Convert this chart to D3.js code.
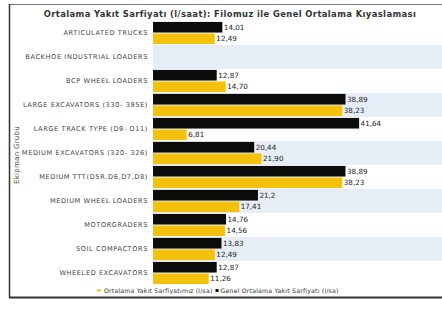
<!DOCTYPE html>
<html><head><meta charset="utf-8">
<script src="https://cdn.jsdelivr.net/npm/d3@7"></script>
<style>body{margin:0;background:#fff}svg{display:block}</style>
</head><body>
<svg id="c" width="442" height="310"></svg>
<script>
const categories = ["ARTICULATED TRUCKS","BACKHOE INDUSTRIAL LOADERS","BCP WHEEL LOADERS","LARGE EXCAVATORS (330- 395E)","LARGE TRACK TYPE (D9- D11)","MEDIUM EXCAVATORS (320- 326)","MEDIUM TTT(D5R,D6,D7,D8)","MEDIUM WHEEL LOADERS","MOTORGRADERS","SOIL COMPACTORS","WHEELED EXCAVATORS"];
const ourFleet = [14.01, null, 12.87, 38.89, 41.64, 20.44, 38.89, 21.2, 14.76, 13.83, 12.87];
const generalAvg = [12.49, null, 14.70, 38.23, 6.81, 21.90, 38.23, 17.41, 14.56, 12.49, 11.26];
const seriesNames = ["Ortalama Yakıt Sarfiyatımız (l/sa)", "Genel Ortalama Yakıt Sarfiyatı (l/sa)"];
const titleText = "Ortalama Yakıt Sarfiyatı (l/saat): Filomuz ile Genel Ortalama Kıyaslaması";
const yTitle = "Ekipman Grubu";

const svg = d3.select("#c");
const font = "DejaVu Sans, sans-serif";
const colors = ["#0b0b0b", "#f4c20d"];

const x = d3.scaleLinear().domain([0, 60]).range([153, 450]);
const y = d3.scaleBand().domain(categories).range([21, 285]);
const y1 = d3.scaleBand().domain([0, 1]).range([0, y.bandwidth()]).padding(0.08);

// stripes
svg.append("g").selectAll("rect").data(categories).join("rect")
  .attr("x", x(0)).attr("width", 442 - x(0))
  .attr("y", d => y(d)).attr("height", y.bandwidth())
  .attr("fill", (d, i) => i % 2 ? "#e6edf7" : "#ffffff");

// frame
svg.append("line").attr("x1", 9).attr("x2", 442).attr("y1", 4.5).attr("y2", 4.5).attr("stroke", "#777").attr("stroke-width", 1.2);
svg.append("line").attr("x1", 9.5).attr("x2", 9.5).attr("y1", 4).attr("y2", 298).attr("stroke", "#333").attr("stroke-width", 1.5);
svg.append("line").attr("x1", 9).attr("x2", 442).attr("y1", 297.5).attr("y2", 297.5).attr("stroke", "#333").attr("stroke-width", 2);

// title
svg.append("text").attr("x", 230).attr("y", 16.5).attr("text-anchor", "middle")
  .attr("font-family", font).attr("font-weight", "bold").attr("font-size", 8.4).attr("letter-spacing", 0.4)
  .attr("fill", "#333").text(titleText);

// category axis
const yAxis = d3.axisLeft(y).tickSize(0).tickPadding(5);
const ga = svg.append("g").attr("transform", `translate(${x(0)},0)`).call(yAxis);
ga.select(".domain").remove();
ga.selectAll("text").attr("font-family", font).attr("font-size", 6.6).attr("letter-spacing", 0.6).attr("fill", "#444");

// y title
svg.append("text").attr("transform", "translate(19,155) rotate(-90)").attr("text-anchor", "middle")
  .attr("font-family", font).attr("font-size", 7).attr("letter-spacing", 0.3).attr("fill", "#444").text(yTitle);

const data = [];
categories.forEach((c, i) => {
  [ourFleet[i], generalAvg[i]].forEach((v, s) => { if (v != null) data.push({c, s, v}); });
});

svg.append("g").selectAll("rect").data(data).join("rect")
  .attr("x", x(0)).attr("y", d => y(d.c) + y1(d.s))
  .attr("width", d => x(d.v) - x(0)).attr("height", y1.bandwidth())
  .attr("fill", d => colors[d.s]);

const labelTxt = { "21.2": "21,2" };
svg.append("g").selectAll("text").data(data).join("text")
  .attr("x", d => x(d.v) + 1.5).attr("y", d => y(d.c) + y1(d.s) + y1.bandwidth() / 2 + 2.5)
  .attr("font-family", font).attr("font-size", 7.2).attr("fill", "#222")
  .text(d => labelTxt[String(d.v)] || d.v.toFixed(2).replace(".", ","));

// legend
const lg = svg.append("g").attr("font-family", font).attr("font-size", 6.2).attr("letter-spacing", 0.2).attr("fill", "#333");
lg.append("rect").attr("x", 97).attr("y", 289.5).attr("width", 4).attr("height", 2).attr("fill", colors[1]);
const t1 = lg.append("text").attr("x", 104).attr("y", 293).text(seriesNames[0]);
const w1 = t1.node().getComputedTextLength();
lg.append("rect").attr("x", 104 + w1 + 3).attr("y", 289).attr("width", 3).attr("height", 3).attr("fill", colors[0]);
lg.append("text").attr("x", 104 + w1 + 8).attr("y", 293).text(seriesNames[1]);
</script>
</body></html>
